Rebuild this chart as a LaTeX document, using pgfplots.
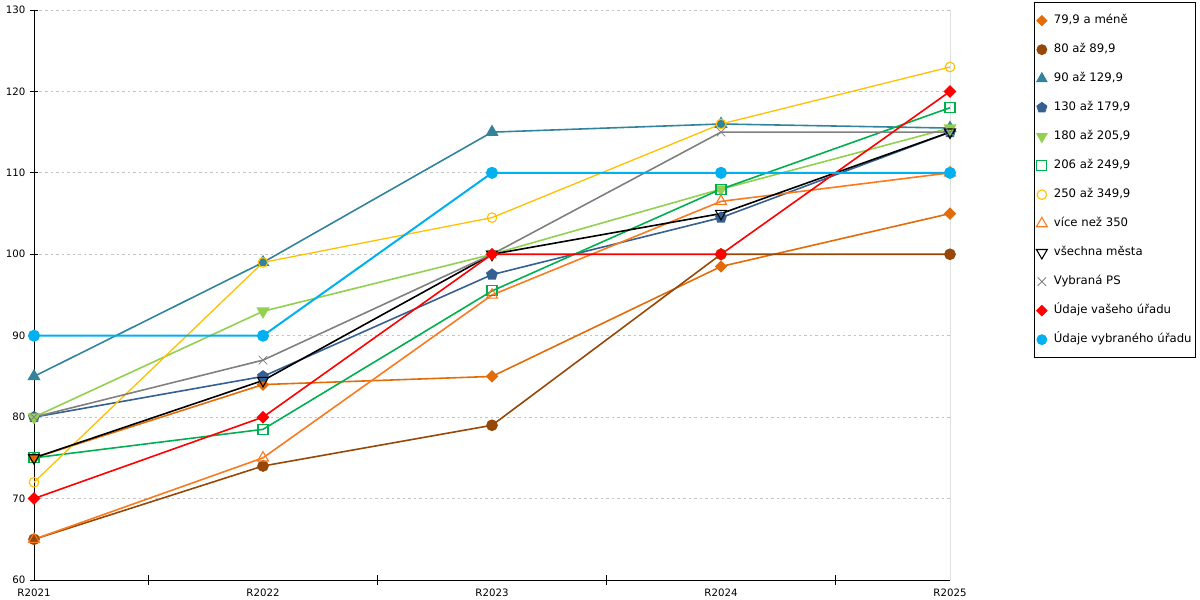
\documentclass[border=0pt]{standalone}
\usepackage{fontspec}
\setmainfont{DejaVu Sans}
\usepackage{pgfplots}
\pgfplotsset{compat=1.18}
\usetikzlibrary{plotmarks}
\definecolor{cA}{HTML}{E36C09}
\definecolor{cB}{HTML}{974806}
\definecolor{cC}{HTML}{31849B}
\definecolor{cD}{HTML}{366092}
\definecolor{cE}{HTML}{92D050}
\definecolor{cF}{HTML}{00B050}
\definecolor{cG}{HTML}{FFC000}
\definecolor{cH}{HTML}{F97A1F}
\definecolor{cI}{HTML}{000000}
\definecolor{cJ}{HTML}{808080}
\definecolor{cK}{HTML}{FF0000}
\definecolor{cL}{HTML}{00B0F0}
\definecolor{gridc}{HTML}{C4C4C4}
\begin{document}
\begin{tikzpicture}[x=1pt,y=1pt]
\useasboundingbox (0,0) rectangle (1200,600);
\begin{axis}[
  at={(34pt,20pt)}, anchor=south west,
  scale only axis, width=916pt, height=570pt,
  xmin=0, xmax=4, ymin=60, ymax=130,
  axis x line=bottom, axis y line=left, axis line style={-, black, line width=0.8pt},
  xtick={0,1,2,3,4},
  xticklabels={R2021,R2022,R2023,R2024,R2025},
  minor xtick={0.5,1.5,2.5,3.5},
  ytick={60,70,...,130},
  tick align=center,
  major x tick style={draw=none},
  major tick length=8pt, minor tick length=10pt,
  tick style={black, line width=0.8pt},
  ymajorgrids,
  grid style={gridc, dash pattern=on 2.5pt off 3pt, line width=0.8pt},
  tick label style={font=\fontsize{10.2}{12}\selectfont},
  /pgf/number format/assume math mode=true,
  yticklabel style={xshift=-1pt},
  xticklabel style={yshift=-1pt},
  every axis plot/.append style={line width=1.6pt},
  legend cell align=left,
  legend style={at={(1.09170,1.01404)}, anchor=north west, draw=black, line width=0.8pt,
    font=\fontsize{11.7}{13}\selectfont, inner xsep=2pt, inner ysep=11pt,
    row sep=14.5pt, column sep=0pt,
    nodes={inner sep=2pt, text height=8pt, text depth=2.5pt}},
  legend image code/.code={\draw[#1, line width=0.8pt] plot coordinates {(0pt,0pt)}; \path[draw=none, fill=none] (-5pt,0pt) (10pt,0pt);},
]
\addplot[cA, mark=square*, mark size=3.6pt, mark options={solid, fill=cA, rotate=45}] coordinates {(0,75) (1,84) (2,85) (3,98.5) (4,105)};
\addplot[cB, mark=*, mark size=5pt, mark options={solid, fill=cB}] coordinates {(0,65) (1,74) (2,79) (3,100) (4,100)};
\addplot[cC, mark=triangle*, mark size=6pt, mark options={solid, fill=cC}] coordinates {(0,85) (1,99) (2,115) (3,116) (4,115.5)};
\addplot[cD, mark=pentagon*, mark size=5.3pt, mark options={solid, fill=cD}] coordinates {(0,80) (1,85) (2,97.5) (3,104.5) (4,115)};
\addplot[cE, mark=triangle*, mark size=6pt, mark options={solid, fill=cE, rotate=180}] coordinates {(0,80) (1,93) (2,100) (3,108) (4,115.5)};
\addplot[cF, mark=square, mark size=5pt, mark options={solid, line width=1.1pt}] coordinates {(0,75) (1,78.5) (2,95.5) (3,108) (4,118)};
\addplot[cG, line width=1.3pt, mark=o, mark size=4.8pt, mark options={solid, line width=1.1pt}] coordinates {(0,72) (1,99) (2,104.5) (3,116) (4,123)};
\addplot[cH, mark=triangle, mark size=6.3pt, mark options={solid, line width=1.1pt}] coordinates {(0,65) (1,75) (2,95) (3,106.5) (4,110)};
\addplot[cI, mark=triangle, mark size=6.3pt, mark options={solid, line width=1.1pt, rotate=180}] coordinates {(0,75) (1,84.5) (2,100) (3,105) (4,115)};
\addplot[cJ, mark=x, mark size=6pt, mark options={solid, line width=0.8pt}] coordinates {(0,80) (1,87) (2,100) (3,115) (4,115)};
\addplot[cK, mark=square*, mark size=3.7pt, mark options={solid, fill=cK, rotate=45}] coordinates {(0,70) (1,80) (2,100) (3,100) (4,120)};
\addplot[cL, line width=2pt, mark=*, mark size=5pt, mark options={solid, fill=cL}] coordinates {(0,90) (1,90) (2,110) (3,110) (4,110)};
\legend{79{,}9 a méně, 80 až 89{,}9, 90 až 129{,}9, 130 až 179{,}9, 180 až 205{,}9, 206 až 249{,}9, 250 až 349{,}9, více než 350, všechna města, Vybraná PS, Údaje vašeho úřadu, Údaje vybraného úřadu}
\draw[black, line width=0.8pt] (rel axis cs:1,0) -- (rel axis cs:1,1);
\end{axis}
\end{tikzpicture}
\end{document}
